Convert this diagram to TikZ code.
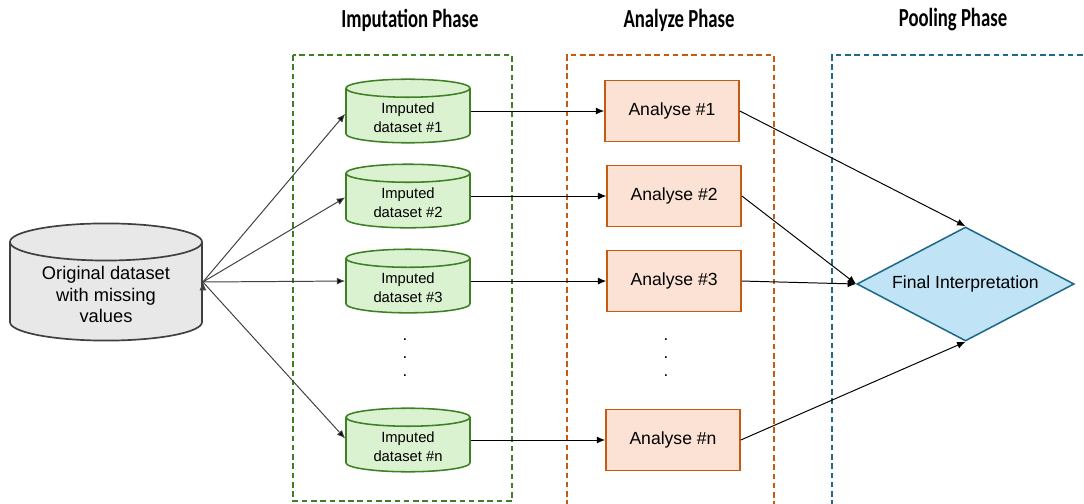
\documentclass[tikz,border=0pt]{standalone}
\usepackage{fontspec}
\setmainfont{Liberation Sans}
\newfontfamily\titlefont{Carlito}
\usetikzlibrary{shapes.geometric,arrows.meta,positioning}
\definecolor{impgreen}{HTML}{3F7F26}
\definecolor{impfill}{HTML}{DAF2D0}
\definecolor{anaorange}{HTML}{C55A11}
\definecolor{anafill}{HTML}{FBE2D5}
\definecolor{poolblue}{HTML}{1F6A8A}
\definecolor{poolfill}{HTML}{C0E4F5}
\definecolor{origgray}{HTML}{404040}
\definecolor{origfill}{HTML}{E8E8E8}
\begin{document}
\begin{tikzpicture}[x=0.025cm,y=-0.025cm,node distance=2.125cm,
                    orig node/.style={cylinder,shape border rotate=90,aspect=0.27,draw=origgray,fill=origfill,
                        line width=1.2pt,minimum width=4.8cm,minimum height=2.55cm,align=center,
                        anchor=shape center,font=\fontsize{13}{15.5}\selectfont},
                    imp node/.style={cylinder,shape border rotate=90,aspect=0.23,draw=impgreen,fill=impfill,
                        line width=1.1pt,minimum width=3.1cm,minimum height=1.5cm,align=center,
                        anchor=shape center,font=\fontsize{10.5}{13.5}\selectfont},
                    ana node/.style={rectangle,draw=anaorange,fill=anafill,line width=1.1pt,
                        minimum width=3.35cm,minimum height=1.53cm,font=\fontsize{12.5}{14}\selectfont},
                    pool node/.style={diamond,aspect=1.9,draw=poolblue,fill=poolfill,line width=1.1pt,inner sep=1pt,
                        minimum width=5.43cm,minimum height=2.85cm,font=\fontsize{12.5}{14}\selectfont},
                    phase/.style={font=\titlefont\bfseries\fontsize{18.5}{20}\selectfont},
                    dot/.style={inner sep=0pt,font=\fontsize{12}{12}\selectfont},
                    frame/.style={line width=1.2pt,dash pattern=on 4pt off 2.6pt}]

    \useasboundingbox (0,0) rectangle (1084,504);

    % Phase titles
    \node[phase] (tImp) at (410,20) {\scalebox{0.72}[1]{Imputation Phase}};
    \node[phase] (tAna) at (679,20) {\scalebox{0.72}[1]{Analyze Phase}};
    \node[phase] (tPool) at (953,20) {\scalebox{0.72}[1]{Pooling Phase}};

    % Phase frames
    \draw[frame,impgreen] (293,55) rectangle (512,501);
    \draw[frame,anaorange] (567,506) -- (567,55) -- (774,55) -- (774,506);
    \draw[frame,poolblue] (832,506) -- (832,55) -- (1086,55);

    % Define vertices
    \node[orig node] (O) at (106,282) {Original dataset\\with missing\\values};

    \node[imp node] (I1) at (408,111) {Imputed\\dataset \#1};
    \node[imp node] (I2) [below of=I1] {Imputed\\dataset \#2};
    \node[imp node] (I3) [below of=I2] {Imputed\\dataset \#3};
    \node[imp node] (In) at (408,440) {Imputed\\dataset \#n};

    \node[ana node] (A1) at (672,111) {Analyse \#1};
    \node[ana node] (A2) [below of=A1,xshift=1.5pt] {Analyse \#2};
    \node[ana node] (A3) [below of=A2] {Analyse \#3};
    \node[ana node] (An) at (673,440) {Analyse \#n};

    \foreach \k/\y in {1/340,2/358,3/376} {
        \node[dot] (Id\k) at (405,\y) {.};
        \node[dot] (Ad\k) at (666,\y) {.};
    }

    \node[pool node] (F) at (965.5,284) {Final Interpretation};

    % Draw edges
    \path[-{Latex[length=6pt,width=5pt]},draw=origgray,line width=0.7pt]
        (O.shape center -| O.east) edge ([yshift=-2pt]I1.shape center -| I1.west)
        (O.shape center -| O.east) edge ([yshift=-1pt]I2.shape center -| I2.west)
        (O.shape center -| O.east) edge (I3.shape center -| I3.west)
        (O.shape center -| O.east) edge ([yshift=1pt]In.shape center -| In.west);
    \path[-{Latex[length=6pt,width=5pt]},line width=0.7pt]
        (I1.shape center -| I1.east) edge (A1.west)
        (I2.shape center -| I2.east) edge (A2.west)
        (I3.shape center -| I3.east) edge (A3.west)
        (In.shape center -| In.east) edge (An.west)
        (A1.east) edge (F.north)
        (A2.east) edge (F.west)
        (A3.east) edge (F.west)
        (An.east) edge (F.south);
\end{tikzpicture}
\end{document}
